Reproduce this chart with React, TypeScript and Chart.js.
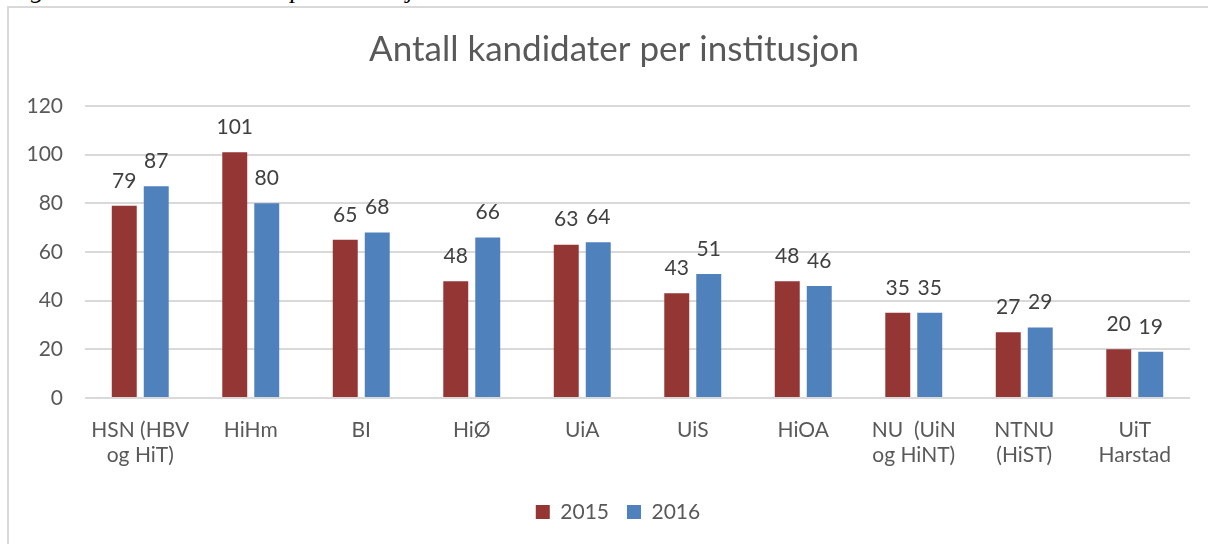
import React, { useEffect, useRef } from "react";
import { Chart, registerables } from "chart.js";

Chart.register(...registerables);

const categories: (string | string[])[] = [
  ["HSN (HBV", "og HiT)"],
  "HiHm",
  "BI",
  "HiØ",
  "UiA",
  "UiS",
  "HiOA",
  ["NU  (UiN", "og HiNT)"],
  ["NTNU", "(HiST)"],
  ["UiT", "Harstad"],
];
const values2015 = [79, 101, 65, 48, 63, 43, 48, 35, 27, 20];
const values2016 = [87, 80, 68, 66, 64, 51, 46, 35, 29, 19];
const seriesNames = ["2015", "2016"];
const chartTitle = "Antall kandidater per institusjon";
const captionText = "Figur 6: Antall kandidater per institusjon";

const FONT = "Lato, 'Open Sans', sans-serif";

const dataLabelPlugin = {
  id: "dataLabels",
  afterDatasetsDraw(chart: any) {
    const ctx = chart.ctx;
    ctx.save();
    ctx.font = `21px ${FONT}`;
    ctx.fillStyle = "#404040";
    ctx.textAlign = "center";
    ctx.textBaseline = "middle";
    chart.data.datasets.forEach((ds: any, di: number) => {
      const meta = chart.getDatasetMeta(di);
      meta.data.forEach((el: any, i: number) => {
        ctx.fillText(String(ds.data[i]), el.x, el.y - 25);
      });
    });
    ctx.restore();
  },
};

// Nudge title and legend boxes to the right, as in the reference
const shiftPlugin = {
  id: "shiftBoxes",
  afterLayout(chart: any) {
    const t = chart.titleBlock;
    if (t) {
      t.left += 14;
      t.right += 14;
    }
    const l = chart.legend;
    if (l) {
      l.left += 18;
      l.right += 18;
    }
  },
};

export default function App() {
  const canvasRef = useRef<HTMLCanvasElement | null>(null);

  useEffect(() => {
    if (!canvasRef.current) return;
    const chart = new Chart(canvasRef.current, {
      type: "bar",
      data: {
        labels: categories,
        datasets: [
          {
            label: seriesNames[0],
            data: values2015,
            backgroundColor: "#943634",
            categoryPercentage: 0.579,
            barPercentage: 0.78,
          },
          {
            label: seriesNames[1],
            data: values2016,
            backgroundColor: "#4F81BD",
            categoryPercentage: 0.579,
            barPercentage: 0.78,
          },
        ],
      },
      options: {
        animation: false,
        responsive: false,
        maintainAspectRatio: false,
        layout: { padding: { left: 0, right: 18, top: 0, bottom: 11.5 } },
        plugins: {
          title: {
            display: true,
            text: chartTitle,
            color: "#595959",
            font: { family: FONT, size: 35, weight: "normal" },
            padding: { top: 21, bottom: 35 },
          },
          legend: {
            display: true,
            position: "bottom",
            labels: {
              color: "#595959",
              font: { family: FONT, size: 21 },
              boxWidth: 14,
              boxHeight: 14,
              padding: 18,
            },
          },
          tooltip: { enabled: false },
        },
        scales: {
          x: {
            grid: { display: false, drawTicks: false },
            border: { display: false },
            ticks: {
              color: "#595959",
              font: { family: FONT, size: 21, lineHeight: 25 / 21 },
              padding: 20,
              maxRotation: 0,
              autoSkip: false,
            },
            afterFit: (scale: any) => {
              scale.height = 85.5;
            },
          },
          y: {
            min: 0,
            max: 120,
            grid: { color: "#d9d9d9", lineWidth: 2, drawTicks: false },
            border: { display: false },
            ticks: {
              stepSize: 20,
              color: "#595959",
              font: { family: FONT, size: 21 },
              padding: 22,
            },
            afterFit: (scale: any) => {
              scale.width = 75;
            },
          },
        },
      },
      plugins: [dataLabelPlugin, shiftPlugin],
    } as any);
    return () => chart.destroy();
  }, []);

  return (
    <div
      style={{
        position: "fixed",
        left: 0,
        top: 0,
        width: 1208,
        height: 544,
        overflow: "hidden",
        background: "#ffffff",
      }}
    >
      <div
        style={{
          position: "absolute",
          left: 8,
          top: -23,
          fontFamily: "'Liberation Serif', 'Times New Roman', serif",
          fontStyle: "italic",
          fontSize: 26,
          lineHeight: 1,
          whiteSpace: "nowrap",
          color: "#000",
        }}
      >
        {captionText}
      </div>
      <div
        style={{
          position: "absolute",
          left: 7,
          top: 6,
          width: 1220,
          height: 560,
          border: "2px solid #d9d9d9",
          boxSizing: "border-box",
        }}
      />
      <canvas
        ref={canvasRef}
        width={1198}
        height={536}
        style={{ position: "absolute", left: 10, top: 8, width: 1198, height: 536 }}
      />
    </div>
  );
}
